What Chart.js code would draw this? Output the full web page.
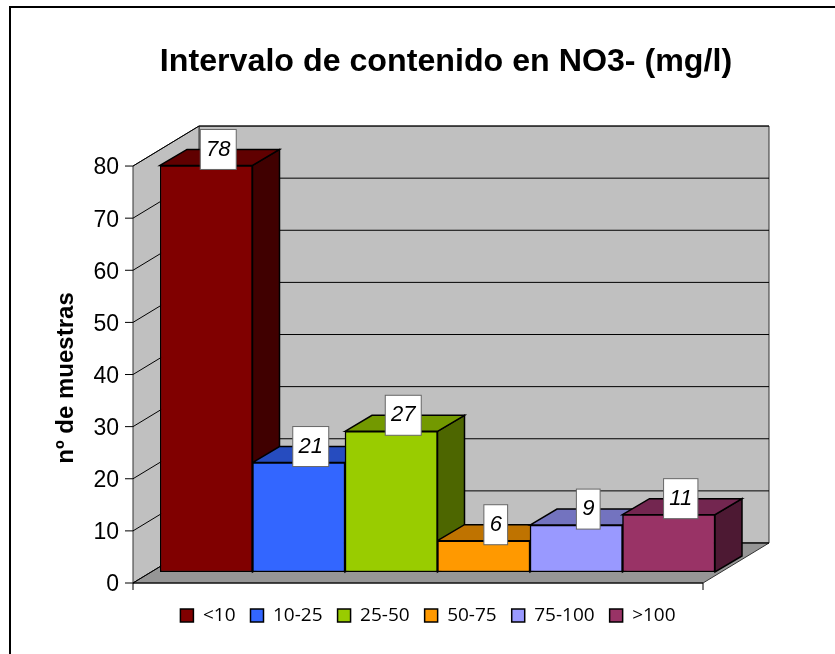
<!DOCTYPE html>
<html>
<head>
<meta charset="utf-8">
<title>Intervalo de contenido en NO3-</title>
<script src="https://cdn.jsdelivr.net/npm/chart.js@4"></script>
<style>
  html, body { margin: 0; padding: 0; background: #fff; }
  canvas { display: block; }
</style>
</head>
<body>
<canvas id="chart" width="835" height="654"></canvas>
<script>
// Datos
const titulo = 'Intervalo de contenido en NO3- (mg/l)';
const tituloEjeY = 'nº de muestras';
const categorias = [''];
const intervalos = ['<10', '10-25', '25-50', '50-75', '75-100', '>100'];
const muestras = [78, 21, 27, 6, 9, 11];

// Colores de cada barra: frente, cara superior, cara lateral
const coloresFrente = ['#800000', '#3366ff', '#99cc00', '#ff9900', '#9999ff', '#993366'];
const coloresArriba = ['#600000', '#264cbf', '#739900', '#bf7300', '#7373bf', '#732650'];
const coloresLado = ['#400000', '#1a3380', '#4d6600', '#805000', '#4d4d80', '#4d1933'];

const negro = '#000';
const gris = '#c0c0c0';
const grisSuelo = '#969696';

// Perspectiva del falso 3D
const fondoX = 66, fondoY = 40;   // profundidad de las paredes
const barraX = 27, barraY = 16;   // profundidad de las barras
const ejeX = 27, ejeY = 11;       // el eje frontal respecto al plano de las barras
const recorteX = 12;              // el eje frontal acaba antes que las barras

function poligono(ctx, puntos, relleno) {
    ctx.beginPath();
    puntos.forEach((p, i) => i ? ctx.lineTo(p[0], p[1]) : ctx.moveTo(p[0], p[1]));
    ctx.closePath();
    ctx.fillStyle = relleno;
    ctx.fill();
    ctx.stroke();
}

function linea(ctx, puntos) {
    ctx.beginPath();
    puntos.forEach((p, i) => i ? ctx.lineTo(p[0], p[1]) : ctx.moveTo(p[0], p[1]));
    ctx.stroke();
}

const falso3d = {
    id: 'falso3d',
    afterLayout(chart) {
        // la leyenda va un poco a la izquierda del titulo
        chart.legend.left -= 18;
        chart.legend.right -= 18;
    },
    beforeDraw(chart) {
        const ctx = chart.ctx;
        // marco exterior, abierto por la derecha y por abajo
        ctx.save();
        ctx.strokeStyle = negro;
        ctx.lineWidth = 2;
        linea(ctx, [[10, chart.height], [10, 7], [chart.width, 7]]);
        ctx.restore();
    },
    beforeDatasetsDraw(chart) {
        const ctx = chart.ctx;
        const y = chart.scales.y;
        const area = chart.chartArea;
        const x0 = area.left - ejeX;
        const x1 = area.right - recorteX;
        const y0 = y.getPixelForValue(0) + ejeY;
        const y80 = y.getPixelForValue(80) + ejeY;

        ctx.save();
        ctx.strokeStyle = '#333';
        ctx.lineWidth = 1;

        // paredes y suelo
        poligono(ctx, [[x0 + fondoX, y80 - fondoY], [x1 + fondoX, y80 - fondoY], [x1 + fondoX, y0 - fondoY], [x0 + fondoX, y0 - fondoY]], gris);
        poligono(ctx, [[x0, y80], [x0 + fondoX, y80 - fondoY], [x0 + fondoX, y0 - fondoY], [x0, y0]], gris);
        poligono(ctx, [[x0, y0], [x0 + fondoX, y0 - fondoY], [x1 + fondoX, y0 - fondoY], [x1, y0]], grisSuelo);

        // lineas de division y marcas del eje
        ctx.strokeStyle = negro;
        y.ticks.forEach(t => {
            const yt = y.getPixelForValue(t.value) + ejeY;
            linea(ctx, [[x0 - 8, yt], [x0, yt], [x0 + fondoX, yt - fondoY], [x1 + fondoX, yt - fondoY]]);
        });
        linea(ctx, [[x0, y0], [x0, y0 + 7]]);
        linea(ctx, [[x1, y0], [x1, y0 + 7]]);
        linea(ctx, [[x0, y0], [x1, y0]]);

        // caras laterales y superiores; el frente lo pinta Chart.js
        ctx.lineWidth = 1.5;
        chart.data.datasets.forEach((ds, i) => {
            const b = chart.getDatasetMeta(i).data[0];
            const izq = b.x - b.width / 2;
            const der = b.x + b.width / 2;
            poligono(ctx, [[der, b.y], [der + barraX, b.y - barraY], [der + barraX, b.base - barraY], [der, b.base]], coloresLado[i]);
            poligono(ctx, [[izq, b.y], [izq + barraX, b.y - barraY], [der + barraX, b.y - barraY], [der, b.y]], coloresArriba[i]);
        });
        ctx.restore();
    },
    afterDatasetsDraw(chart) {
        const ctx = chart.ctx;
        ctx.save();
        // etiquetas de valor en cajitas blancas
        ctx.font = 'italic 22px "Liberation Sans"';
        ctx.textAlign = 'center';
        ctx.textBaseline = 'middle';
        chart.data.datasets.forEach((ds, i) => {
            const b = chart.getDatasetMeta(i).data[0];
            const texto = String(ds.data[0]);
            const ancho = ctx.measureText(texto).width + 11.5;
            const cx = b.x + 12, cy = b.y - 16;
            ctx.fillStyle = '#fff';
            ctx.strokeStyle = '#666';
            ctx.lineWidth = 1;
            ctx.fillRect(cx - ancho / 2, cy - 20, ancho, 40);
            ctx.strokeRect(cx - ancho / 2, cy - 20, ancho, 40);
            ctx.fillStyle = negro;
            ctx.fillText(texto, cx, cy);
        });

        // titulo del eje Y
        ctx.translate(66, 378);
        ctx.rotate(-Math.PI / 2);
        ctx.font = 'bold 24px "Liberation Sans"';
        ctx.fillStyle = negro;
        ctx.fillText(tituloEjeY, 0, 0);
        ctx.restore();
    }
};

new Chart(document.getElementById('chart').getContext('2d'), {
    type: 'bar',
    data: {
        labels: categorias,
        datasets: intervalos.map((nombre, i) => ({
            label: nombre,
            data: [muestras[i]],
            backgroundColor: coloresFrente[i],
            borderColor: negro,
            borderWidth: 1.5,
            borderSkipped: false,
            barPercentage: 1,
            categoryPercentage: 1
        }))
    },
    options: {
        responsive: false,
        animation: false,
        layout: { padding: { left: 57, right: 0, top: 0, bottom: 19 } },
        plugins: {
            tooltip: { enabled: false },
            title: {
                display: true,
                text: titulo,
                color: negro,
                font: { family: '"Liberation Sans"', size: 32.2, weight: 'bold' },
                padding: { top: 42.7, bottom: 73.7 }
            },
            legend: {
                position: 'bottom',
                onClick: null,
                labels: {
                    color: negro,
                    boxWidth: 13,
                    boxHeight: 13,
                    padding: 15,
                    font: { family: '"Open Sans"', size: 19 }
                }
            }
        },
        scales: {
            x: {
                grid: { display: false },
                border: { display: false },
                ticks: { display: false },
                afterFit(s) { s.height = 19; }
            },
            y: {
                min: 0,
                max: 80,
                grid: { display: false },
                border: { display: false },
                ticks: {
                    stepSize: 10,
                    padding: 33,
                    labelOffset: ejeY + 2,
                    color: negro,
                    font: { family: '"Liberation Sans"', size: 23 }
                },
                afterFit(s) { s.width = 103; }
            },
            // solo reserva el hueco de la derecha
            hueco: {
                position: 'right',
                grid: { display: false },
                border: { display: false },
                ticks: { display: false },
                afterFit(s) { s.width = 120; }
            }
        }
    },
    plugins: [falso3d]
});
</script>
</body>
</html>
